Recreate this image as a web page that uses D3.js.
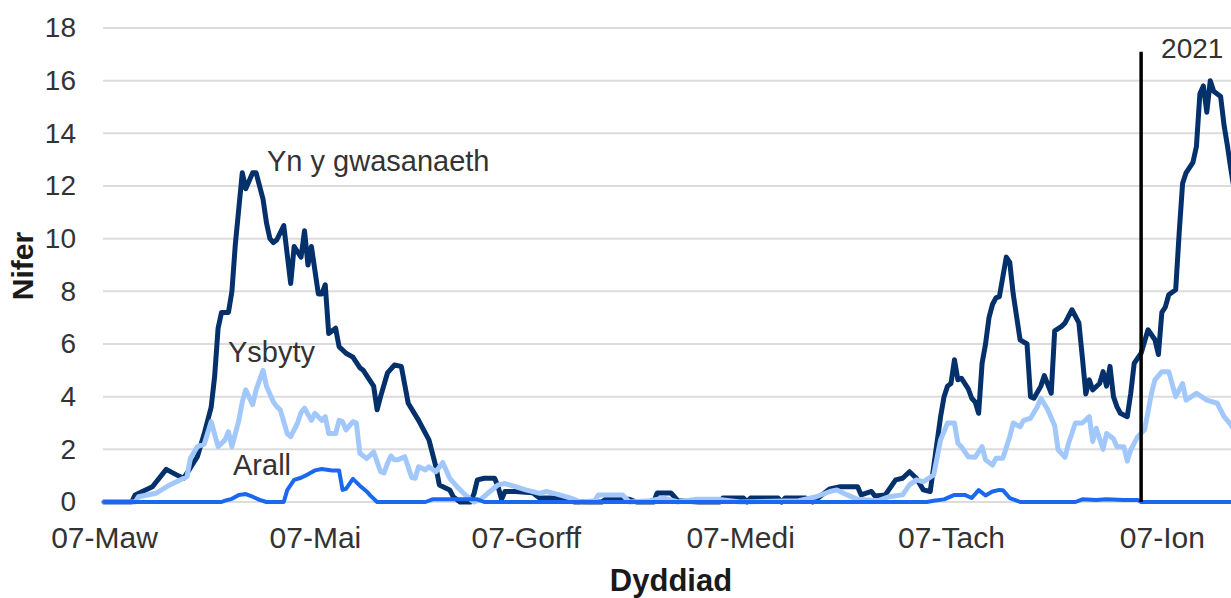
<!DOCTYPE html>
<html lang="cy">
<head>
<meta charset="UTF-8">
<title>Nifer yn ôl dyddiad</title>
<script src="https://cdn.jsdelivr.net/npm/d3@7"></script>
<style>
  body{margin:0;background:#fff;}
  svg text{font-family:"Liberation Sans", Arial, sans-serif;fill:#333;}
  .grid line{stroke:#dcdcdc;stroke-width:2;}
  .axis-title{font-weight:bold;fill:#1a1a1a;}
</style>
</head>
<body>
<svg id="chart" width="1231" height="598"></svg>
<script>
// days counted from 07-Mar-2020
const startDay = "2020-03-07";
const endDay = 326;
const tickDates = ["2020-03-07","2020-05-07","2020-07-07","2020-09-07","2020-11-07","2021-01-07"];
const tickLabels = ["07-Maw","07-Mai","07-Gorff","07-Medi","07-Tach","07-Ion"];
const yTicks = [0,2,4,6,8,10,12,14,16,18];
const markerDate = "2021-01-01";
const markerLabel = "2021";

// [day, value]
const gwasanaeth = [[0,0],[8,0],[9,0.27],[14,0.58],[18,1.24],[21,1.03],[23,0.9],[25,1.3],[27,1.72],[29,2.6],[31,3.6],[32,4.76],[33,6.6],[34,7.2],[36,7.2],[37,8],[38,9.8],[40,12.5],[41,11.9],[43,12.5],[44,12.5],[46,11.5],[47,10.6],[48,10.0],[49,9.85],[50,9.96],[52,10.5],[54,8.3],[55,9.7],[57,9.3],[58,10.3],[59,9.0],[60,9.7],[62,7.9],[63,7.9],[64,8.25],[65,6.4],[67,6.6],[68,5.9],[70,5.65],[72,5.5],[74,5.1],[75,5.0],[76,4.8],[78,4.4],[79,3.5],[80,4.0],[82,4.9],[84,5.2],[86,5.15],[88,3.75],[91,3.1],[94,2.36],[96,1.34],[97,0.65],[100,0.46],[101,0.2],[103,0],[106,0],[107,0.3],[108,0.84],[110,0.9],[113,0.9],[114,0.58],[115,0.1],[116,0.4],[119,0.4],[124,0.35],[126,0.15],[133,0.15],[136,0],[144,0],[145,0.1],[152,0.1],[154,0],[159,0],[160,0.34],[164,0.34],[166,0.05],[172,0],[178,0],[179,0.15],[185,0.15],[186,0],[187,0.15],[195,0.15],[196,0],[197,0.15],[203,0.15],[205,0],[207,0.2],[210,0.5],[213,0.58],[218,0.58],[219,0.27],[222,0.4],[223,0.23],[226,0.27],[229,0.84],[231,0.9],[233,1.15],[235,0.9],[237,0.46],[239,0.4],[240,1.34],[242,3.24],[243,4.0],[244,4.4],[245,4.5],[246,5.4],[247,4.64],[248,4.7],[250,4.3],[251,3.94],[252,3.8],[253,3.37],[254,5.27],[255,6.0],[256,7.0],[257,7.5],[258,7.75],[259,7.8],[261,9.3],[262,9.1],[263,7.9],[265,6.16],[267,6.0],[268,4.0],[269,3.94],[271,4.4],[272,4.8],[274,4.13],[275,6.5],[277,6.67],[278,6.8],[280,7.3],[282,6.8],[283,5.5],[284,4.1],[285,4.64],[286,4.26],[288,4.5],[289,4.95],[290,4.4],[291,5.15],[292,4.0],[293,3.62],[294,3.37],[296,3.24],[297,4.13],[298,5.27],[300,5.65],[302,6.54],[304,6.16],[305,5.6],[306,7.2],[307,7.4],[308,7.87],[310,8.06],[311,10.2],[312,12.1],[313,12.5],[315,12.9],[316,13.5],[317,15.5],[318,15.8],[319,14.8],[320,16.0],[321,15.6],[323,15.4],[324,14.3],[325,13.5],[326,12.6],[327,11.8]];

const ysbyty = [[0,0],[9,0],[10,0.2],[15,0.33],[19,0.65],[22,0.84],[24,0.96],[25,1.66],[27,2.1],[29,2.2],[31,3.05],[33,2.1],[35,2.36],[36,2.67],[37,2.1],[39,3.1],[40,3.8],[41,4.26],[43,3.7],[44,4.26],[46,5.0],[47,4.4],[49,3.8],[50,3.62],[51,3.5],[53,2.6],[54,2.48],[56,3.0],[57,3.4],[58,3.56],[60,3.1],[61,3.37],[63,3.1],[64,3.24],[65,2.6],[67,2.6],[68,3.1],[69,3.05],[70,2.74],[72,3.05],[73,3.0],[74,1.85],[76,1.65],[78,1.9],[80,1.15],[81,1.1],[82,1.47],[83,1.75],[84,1.6],[85,1.6],[87,1.72],[89,0.93],[90,0.9],[91,1.34],[93,1.22],[94,1.34],[96,1.15],[98,1.5],[100,0.9],[102,0.6],[104,0.33],[106,0.1],[107,0],[109,0.1],[111,0.33],[114,0.65],[116,0.7],[119,0.58],[122,0.46],[126,0.33],[128,0.4],[131,0.3],[135,0.15],[138,0],[142,0.05],[143,0.27],[150,0.27],[152,0],[158,0.05],[162,0.15],[166,0],[171,0.1],[178,0.1],[184,0],[201,0.05],[206,0.2],[210,0.4],[212,0.46],[215,0.27],[218,0.1],[224,0.05],[227,0.2],[231,0.27],[233,0.65],[235,0.84],[237,0.77],[240,1.03],[242,2.36],[244,3.0],[246,3.0],[247,2.23],[248,2.1],[250,1.72],[252,1.7],[254,2.1],[255,1.6],[257,1.4],[258,1.66],[260,1.66],[262,2.48],[263,3.0],[265,2.86],[266,3.1],[268,3.18],[270,3.62],[271,3.94],[273,3.5],[275,2.9],[276,1.98],[278,1.7],[279,2.23],[281,3.0],[283,3.0],[285,3.24],[286,2.3],[287,2.8],[289,2.0],[290,2.6],[292,2.4],[293,2.1],[295,2.1],[296,1.55],[297,1.98],[299,2.48],[301,2.74],[303,4.13],[304,4.64],[306,4.95],[308,4.95],[310,4.0],[312,4.5],[313,3.87],[316,4.13],[319,3.87],[322,3.75],[324,3.24],[326,2.93],[327,2.7]];

const arall = [[0,0],[34,0],[35,0.05],[37,0.12],[39,0.27],[41,0.3],[43,0.2],[45,0.08],[47,0],[52,0],[53,0.45],[55,0.84],[57,0.92],[59,1.05],[61,1.2],[63,1.25],[66,1.2],[68,1.2],[69,0.46],[70,0.5],[72,0.88],[74,0.62],[76,0.4],[77,0.25],[79,0],[93,0],[95,0.1],[108,0.1],[110,0],[238,0],[240,0.05],[243,0.1],[246,0.27],[249,0.27],[251,0.15],[253,0.45],[255,0.25],[257,0.4],[259,0.46],[260,0.45],[262,0.15],[264,0.05],[265,0],[281,0],[283,0.1],[287,0.08],[290,0.1],[295,0.08],[299,0.08],[300,0],[327,0]];

const parse = d3.timeParse("%Y-%m-%d");
const day0 = parse(startDay);
const toDate = n => d3.timeDay.offset(day0, n);

const svg = d3.select("#chart");
const width = 1231, height = 598;

const x = d3.scaleTime()
    .domain([day0, toDate(endDay)])
    .range([104, 1231]);
const y = d3.scaleLinear()
    .domain([0, 18])
    .range([502, 28]);

// gridlines
svg.append("g").attr("class","grid")
    .selectAll("line").data(yTicks).join("line")
    .attr("x1", 103).attr("x2", width)
    .attr("y1", d => y(d)).attr("y2", d => y(d));

// y axis
const yAxis = svg.append("g")
    .attr("transform","translate(76,0)")
    .call(d3.axisLeft(y).tickValues(yTicks).tickSize(0).tickPadding(0));
yAxis.select(".domain").remove();
yAxis.selectAll("text").style("font-size","28px").attr("fill","#333");

// x axis
const xAxis = svg.append("g")
    .attr("transform","translate(0,527)")
    .call(d3.axisBottom(x)
        .tickValues(tickDates.map(parse))
        .tickFormat((d, i) => tickLabels[i])
        .tickSize(0).tickPadding(0));
xAxis.select(".domain").remove();
xAxis.selectAll("text").style("font-size","30px").attr("fill","#333");

// lines
const line = d3.line()
    .x(d => x(toDate(d[0])))
    .y(d => y(d[1]));

const series = [
    {data: gwasanaeth, color: "#04306c", w: 5},
    {data: ysbyty, color: "#a2c8fb", w: 5},
    {data: arall, color: "#1a68f0", w: 4}
];
svg.append("g").selectAll("path").data(series).join("path")
    .attr("d", d => line(d.data))
    .attr("fill","none")
    .attr("stroke", d => d.color)
    .attr("stroke-width", d => d.w)
    .attr("stroke-linejoin","round")
    .attr("stroke-linecap","round");

// 2021 marker
const mx = x(parse(markerDate));
svg.append("line")
    .attr("x1", mx).attr("x2", mx)
    .attr("y1", y(17.1)).attr("y2", y(0))
    .attr("stroke","#000").attr("stroke-width",3.5);
svg.append("text")
    .attr("x", mx + 20).attr("y", 58)
    .style("font-size","28px")
    .text(markerLabel);

// series labels
const labels = [
    {t: "Yn y gwasanaeth", x: 267, y: 171},
    {t: "Ysbyty", x: 228, y: 362},
    {t: "Arall", x: 233, y: 475}
];
svg.append("g").selectAll("text").data(labels).join("text")
    .attr("x", d => d.x).attr("y", d => d.y)
    .style("font-size","29px")
    .text(d => d.t);

// axis titles
svg.append("text").attr("class","axis-title")
    .attr("x", 671).attr("y", 591)
    .attr("text-anchor","middle")
    .style("font-size","31px")
    .text("Dyddiad");
svg.append("text").attr("class","axis-title")
    .attr("transform","translate(33,266) rotate(-90)")
    .attr("text-anchor","middle")
    .style("font-size","30px")
    .text("Nifer");
</script>
</body>
</html>
